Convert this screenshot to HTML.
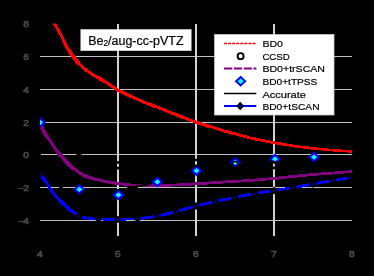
<!DOCTYPE html>
<html><head><meta charset="utf-8"><title>Be2 chart</title>
<style>html,body{margin:0;padding:0;background:#000;}svg{display:block}text{font-family:"Liberation Sans",sans-serif;filter:grayscale(1);}</style></head>
<body>
<svg width="374" height="276" viewBox="0 0 374 276">
<rect x="0" y="0" width="374" height="276" fill="#000"/>
<defs><filter id="bl" x="-5%" y="-5%" width="110%" height="110%"><feGaussianBlur stdDeviation="0.35"/></filter><clipPath id="ax"><rect x="40" y="23.5" width="312" height="212.3"/></clipPath></defs>
<g shape-rendering="crispEdges">
<rect x="40" y="56" width="312" height="1" fill="#c2c2c2"/>
<rect x="40" y="89" width="312" height="1" fill="#c2c2c2"/>
<rect x="40" y="122" width="312" height="1" fill="#c2c2c2"/>
<rect x="40" y="154" width="312" height="1" fill="#c2c2c2"/>
<rect x="40" y="187" width="312" height="1" fill="#c2c2c2"/>
<rect x="40" y="220" width="312" height="1" fill="#c2c2c2"/>
<rect x="117" y="23.5" width="2" height="212.3" fill="#d2d2d2"/>
<rect x="195" y="23.5" width="2" height="212.3" fill="#d2d2d2"/>
<rect x="273" y="23.5" width="2" height="212.3" fill="#d2d2d2"/>
</g>
<g clip-path="url(#ax)" fill="none" stroke-linejoin="round">
<path d="M47.48,12.00V12.00H48.52V14.03H49.56V16.02H50.60V17.99H51.64V19.92H52.68V21.82H53.72V23.69H54.76V25.50H55.80V27.24H56.84V28.95H57.88V30.67H58.92V32.43H59.96V34.26H61.00V36.23H62.04V38.29H63.08V40.41H64.12V42.52H65.16V44.58H66.20V46.52H67.24V48.36H68.28V50.12H69.32V51.77H70.36V53.31H71.40V54.78H72.44V56.18H73.48V57.54H74.52V58.84H75.56V60.10H76.60V61.34H77.64V62.58H78.68V63.79H79.72V64.94H80.76V66.01H81.80V67.04H82.84V67.99H83.88V68.86H84.92V69.68H85.96V70.44H87.00V71.18H88.04V71.90H89.08V72.60H90.12V73.27H91.16V73.92H92.20V74.55H93.24V75.15H94.28V75.73H95.32V76.29H96.36V76.87H97.40V77.45H98.44V78.06H99.48V78.68H100.52V79.30H101.56V79.93H102.60V80.57H103.64V81.21H104.68V81.86H105.72V82.52H106.76V83.18H107.80V83.84H108.84V84.50H109.88V85.15H110.92V85.82H111.96V86.49H113.00V87.16H114.04V87.83H115.08V88.48H116.12V89.12H117.16V89.72H118.20V90.30H119.24V90.86H120.28V91.41H121.32V91.96H122.36V92.49H123.40V93.02H124.44V93.54H125.48V94.05H126.52V94.55H127.56V95.04H128.60V95.53H129.64V96.02H130.68V96.49H131.72V96.97H132.76V97.44H133.80V97.90H134.84V98.36H135.88V98.82H136.92V99.28H137.96V99.73H139.00V100.18H140.04V100.62H141.08V101.05H142.12V101.48H143.16V101.91H144.20V102.33H145.24V102.75H146.28V103.17H147.32V103.58H148.36V103.99H149.40V104.40H150.44V104.80H151.48V105.21H152.52V105.61H153.56V106.01H154.60V106.41H155.64V106.81H156.68V107.21H157.72V107.61H158.76V108.02H159.80V108.42H160.84V108.82H161.88V109.23H162.92V109.64H163.96V110.05H165.00V110.46H166.04V110.87H167.08V111.28H168.12V111.69H169.16V112.10H170.20V112.51H171.24V112.92H172.28V113.33H173.32V113.74H174.36V114.15H175.40V114.56H176.44V114.97H177.48V115.37H178.52V115.78H179.56V116.18H180.60V116.59H181.64V116.99H182.68V117.39H183.72V117.79H184.76V118.18H185.80V118.58H186.84V118.97H187.88V119.36H188.92V119.74H189.96V120.13H191.00V120.51H192.04V120.89H193.08V121.26H194.12V121.63H195.16V121.99H196.20V122.34H197.24V122.69H198.28V123.03H199.32V123.37H200.36V123.70H201.40V124.03H202.44V124.36H203.48V124.69H204.52V125.01H205.56V125.33H206.60V125.66H207.64V125.98H208.68V126.30H209.72V126.62H210.76V126.94H211.80V127.27H212.84V127.59H213.88V127.91H214.92V128.23H215.96V128.55H217.00V128.87H218.04V129.18H219.08V129.50H220.12V129.81H221.16V130.12H222.20V130.43H223.24V130.73H224.28V131.03H225.32V131.33H226.36V131.62H227.40V131.91H228.44V132.21H229.48V132.50H230.52V132.79H231.56V133.08H232.60V133.37H233.64V133.65H234.68V133.94H235.72V134.22H236.76V134.51H237.80V134.79H238.84V135.07H239.88V135.34H240.92V135.62H241.96V135.89H243.00V136.16H244.04V136.43H245.08V136.69H246.12V136.95H247.16V137.21H248.20V137.46H249.24V137.71H250.28V137.96H251.32V138.20H252.36V138.44H253.40V138.67H254.44V138.90H255.48V139.13H256.52V139.35H257.56V139.57H258.60V139.79H259.64V140.01H260.68V140.22H261.72V140.43H262.76V140.64H263.80V140.84H264.84V141.05H265.88V141.25H266.92V141.44H267.96V141.64H269.00V141.83H270.04V142.03H271.08V142.22H272.12V142.40H273.16V142.59H274.20V142.77H275.24V142.96H276.28V143.14H277.32V143.33H278.36V143.51H279.40V143.69H280.44V143.87H281.48V144.05H282.52V144.23H283.56V144.40H284.60V144.58H285.64V144.75H286.68V144.92H287.72V145.09H288.76V145.25H289.80V145.42H290.84V145.58H291.88V145.74H292.92V145.89H293.96V146.05H295.00V146.20H296.04V146.34H297.08V146.48H298.12V146.62H299.16V146.76H300.20V146.89H301.24V147.02H302.28V147.15H303.32V147.27H304.36V147.40H305.40V147.52H306.44V147.64H307.48V147.76H308.52V147.88H309.56V147.99H310.60V148.11H311.64V148.22H312.68V148.33H313.72V148.44H314.76V148.54H315.80V148.65H316.84V148.75H317.88V148.85H318.92V148.96H319.96V149.06H321.00V149.15H322.04V149.25H323.08V149.35H324.12V149.44H325.16V149.53H326.20V149.62H327.24V149.71H328.28V149.80H329.32V149.89H330.36V149.98H331.40V150.06H332.44V150.15H333.48V150.23H334.52V150.32H335.56V150.40H336.60V150.48H337.64V150.56H338.68V150.64H339.72V150.72H340.76V150.79H341.80V150.87H342.84V150.94H343.88V151.01H344.92V151.08H345.96V151.15H347.00V151.22H348.04V151.29H349.08V151.35H350.12V151.42H351.16V151.48H352.20V151.50H353.24" stroke="#ff0000" stroke-width="2.4" stroke-linejoin="miter" shape-rendering="crispEdges" filter="url(#bl)"/>
<path d="M39.48,124.50V124.50H40.52V126.33H41.56V128.13H42.60V129.90H43.64V131.65H44.68V133.37H45.72V135.06H46.76V136.72H47.80V138.35H48.84V139.94H49.88V141.51H50.92V143.06H51.96V144.60H53.00V146.12H54.04V147.61H55.08V149.07H56.12V150.49H57.16V151.88H58.20V153.23H59.24V154.53H60.28V155.77H61.32V156.95H62.36V158.07H63.40V159.16H64.44V160.23H65.48V161.30H66.52V162.39H67.56V163.47H68.60V164.53H69.64V165.55H70.68V166.51H71.72V167.42H72.76V168.29H73.80V169.12H74.84V169.92H75.88V170.69H76.92V171.42H77.96V172.13H79.00V172.80H80.04V173.45H81.08V174.06H82.12V174.64H83.16V175.20H84.20V175.73H85.24V176.23H86.28V176.69H87.32V177.09H88.36V177.44H89.40V177.75H90.44V178.05H91.48V178.33H92.52V178.61H93.56V178.89H94.60V179.17H95.64V179.44H96.68V179.69H97.72V179.94H98.76V180.18H99.80V180.41H100.84V180.63H101.88V180.86H102.92V181.07H103.96V181.28H105.00V181.49H106.04V181.69H107.08V181.88H108.12V182.07H109.16V182.25H110.20V182.42H111.24V182.59H112.28V182.75H113.32V182.92H114.36V183.07H115.40V183.22H116.44V183.37H117.48V183.51H118.52V183.65H119.56V183.78H120.60V183.90H121.64V184.02H122.68V184.13H123.72V184.25H124.76V184.36H125.80V184.48H126.84V184.59H127.88V184.69H128.92V184.80H129.96V184.90H131.00V184.99H132.04V185.07H133.08V185.14H134.12V185.20H135.16V185.25H136.20V185.29H137.24V185.32H138.28V185.35H139.32V185.37H140.36V185.40H141.40V185.42H142.44V185.44H143.48V185.46H144.52V185.48H145.56V185.50H146.60V185.52H147.64V185.53H148.68V185.55H149.72V185.56H150.76V185.57H151.80V185.58H152.84V185.59H153.88V185.59H154.92V185.60H155.96V185.60H157.00V185.60H158.04V185.59H159.08V185.58H160.12V185.56H161.16V185.54H162.20V185.51H163.24V185.48H164.28V185.44H165.32V185.40H166.36V185.36H167.40V185.31H168.44V185.27H169.48V185.22H170.52V185.18H171.56V185.13H172.60V185.08H173.64V185.04H174.68V184.99H175.72V184.95H176.76V184.90H177.80V184.85H178.84V184.79H179.88V184.74H180.92V184.68H181.96V184.62H183.00V184.56H184.04V184.50H185.08V184.44H186.12V184.38H187.16V184.31H188.20V184.25H189.24V184.18H190.28V184.12H191.32V184.05H192.36V183.99H193.40V183.93H194.44V183.86H195.48V183.80H196.52V183.74H197.56V183.68H198.60V183.61H199.64V183.55H200.68V183.48H201.72V183.42H202.76V183.36H203.80V183.29H204.84V183.23H205.88V183.16H206.92V183.10H207.96V183.03H209.00V182.96H210.04V182.90H211.08V182.83H212.12V182.77H213.16V182.70H214.20V182.63H215.24V182.57H216.28V182.50H217.32V182.44H218.36V182.37H219.40V182.31H220.44V182.24H221.48V182.18H222.52V182.11H223.56V182.05H224.60V181.98H225.64V181.92H226.68V181.86H227.72V181.79H228.76V181.73H229.80V181.67H230.84V181.60H231.88V181.54H232.92V181.48H233.96V181.41H235.00V181.35H236.04V181.29H237.08V181.22H238.12V181.16H239.16V181.09H240.20V181.02H241.24V180.96H242.28V180.89H243.32V180.82H244.36V180.75H245.40V180.68H246.44V180.61H247.48V180.54H248.52V180.47H249.56V180.39H250.60V180.32H251.64V180.24H252.68V180.17H253.72V180.09H254.76V180.01H255.80V179.93H256.84V179.85H257.88V179.77H258.92V179.69H259.96V179.61H261.00V179.53H262.04V179.44H263.08V179.36H264.12V179.27H265.16V179.19H266.20V179.10H267.24V179.01H268.28V178.92H269.32V178.83H270.36V178.74H271.40V178.64H272.44V178.55H273.48V178.45H274.52V178.36H275.56V178.25H276.60V178.15H277.64V178.04H278.68V177.93H279.72V177.82H280.76V177.71H281.80V177.60H282.84V177.48H283.88V177.37H284.92V177.25H285.96V177.13H287.00V177.02H288.04V176.90H289.08V176.78H290.12V176.67H291.16V176.55H292.20V176.44H293.24V176.33H294.28V176.22H295.32V176.11H296.36V176.01H297.40V175.90H298.44V175.80H299.48V175.71H300.52V175.61H301.56V175.51H302.60V175.42H303.64V175.33H304.68V175.24H305.72V175.14H306.76V175.05H307.80V174.96H308.84V174.87H309.88V174.79H310.92V174.70H311.96V174.61H313.00V174.52H314.04V174.44H315.08V174.35H316.12V174.27H317.16V174.18H318.20V174.10H319.24V174.02H320.28V173.93H321.32V173.85H322.36V173.77H323.40V173.69H324.44V173.60H325.48V173.52H326.52V173.44H327.56V173.36H328.60V173.28H329.64V173.20H330.68V173.12H331.72V173.04H332.76V172.96H333.80V172.88H334.84V172.80H335.88V172.72H336.92V172.64H337.96V172.57H339.00V172.49H340.04V172.41H341.08V172.34H342.12V172.26H343.16V172.19H344.20V172.11H345.24V172.04H346.28V171.96H347.32V171.89H348.36V171.82H349.40V171.74H350.44V171.67H351.48V171.60H352.52" stroke="#800080" stroke-width="2.6" stroke-linejoin="miter" shape-rendering="crispEdges" filter="url(#bl)"/>
<path d="M39.00,152.50 L40.57,155.41 L42.15,158.27 L43.72,161.06 L45.29,163.78 L46.86,166.43 L48.44,169.01 L50.01,171.52 L51.58,174.02 L53.16,176.57 L54.73,179.08 L56.30,181.50 L57.87,183.74 L59.45,185.74 L61.02,187.44 L62.59,188.88 L64.17,190.25 L65.74,191.52 L67.31,192.66 L68.88,193.65 L70.46,194.44 L72.03,195.01 L73.60,195.45 L75.18,195.86 L76.75,196.24 L78.32,196.58 L79.89,196.86 L81.47,197.08 L83.04,197.23 L84.61,197.30 L86.19,197.28 L87.76,197.19 L89.33,197.04 L90.90,196.83 L92.48,196.59 L94.05,196.32 L95.62,196.03 L97.20,195.73 L98.77,195.43 L100.34,195.14 L101.91,194.82 L103.49,194.47 L105.06,194.08 L106.63,193.67 L108.21,193.24 L109.78,192.80 L111.35,192.36 L112.92,191.91 L114.50,191.48 L116.07,191.07 L117.64,190.68 L119.22,190.32 L120.79,189.97 L122.36,189.63 L123.93,189.29 L125.51,188.96 L127.08,188.63 L128.65,188.31 L130.23,187.98 L131.80,187.64 L133.37,187.31 L134.94,186.98 L136.52,186.64 L138.09,186.30 L139.66,185.95 L141.24,185.59 L142.81,185.23 L144.38,184.85 L145.95,184.48 L147.53,184.10 L149.10,183.72 L150.67,183.34 L152.25,182.95 L153.82,182.56 L155.39,182.17 L156.96,181.78 L158.54,181.38 L160.11,180.97 L161.68,180.55 L163.26,180.12 L164.83,179.68 L166.40,179.23 L167.97,178.77 L169.55,178.31 L171.12,177.84 L172.69,177.37 L174.27,176.89 L175.84,176.42 L177.41,175.94 L178.98,175.47 L180.56,175.01 L182.13,174.55 L183.70,174.10 L185.28,173.65 L186.85,173.22 L188.42,172.80 L189.99,172.40 L191.57,172.01 L193.14,171.63 L194.71,171.28 L196.29,170.94 L197.86,170.61 L199.43,170.29 L201.01,169.98 L202.58,169.66 L204.15,169.36 L205.72,169.06 L207.30,168.76 L208.87,168.47 L210.44,168.18 L212.02,167.90 L213.59,167.63 L215.16,167.36 L216.73,167.09 L218.31,166.84 L219.88,166.58 L221.45,166.34 L223.03,166.10 L224.60,165.87 L226.17,165.64 L227.74,165.42 L229.32,165.21 L230.89,165.00 L232.46,164.81 L234.04,164.61 L235.61,164.43 L237.18,164.25 L238.75,164.08 L240.33,163.91 L241.90,163.74 L243.47,163.58 L245.05,163.42 L246.62,163.27 L248.19,163.12 L249.76,162.97 L251.34,162.83 L252.91,162.69 L254.48,162.55 L256.06,162.41 L257.63,162.28 L259.20,162.15 L260.77,162.02 L262.35,161.89 L263.92,161.77 L265.49,161.65 L267.07,161.52 L268.64,161.40 L270.21,161.28 L271.78,161.17 L273.36,161.05 L274.93,160.93 L276.50,160.81 L278.08,160.70 L279.65,160.58 L281.22,160.47 L282.79,160.36 L284.37,160.24 L285.94,160.13 L287.51,160.02 L289.09,159.92 L290.66,159.81 L292.23,159.70 L293.80,159.60 L295.38,159.50 L296.95,159.40 L298.52,159.30 L300.10,159.20 L301.67,159.11 L303.24,159.02 L304.81,158.93 L306.39,158.84 L307.96,158.76 L309.53,158.67 L311.11,158.59 L312.68,158.52 L314.25,158.44 L315.82,158.37 L317.40,158.29 L318.97,158.22 L320.54,158.15 L322.12,158.08 L323.69,158.01 L325.26,157.94 L326.83,157.87 L328.41,157.81 L329.98,157.74 L331.55,157.68 L333.13,157.62 L334.70,157.56 L336.27,157.50 L337.84,157.44 L339.42,157.38 L340.99,157.33 L342.56,157.28 L344.14,157.23 L345.71,157.18 L347.28,157.13 L348.85,157.08 L350.43,157.04 L352.00,157.00" stroke="#000" stroke-width="2.4" shape-rendering="crispEdges"/>
<path d="M39.48,174.20V174.20H40.52V175.30H41.56V176.49H42.60V177.79H43.64V179.24H44.68V180.82H45.72V182.47H46.76V184.14H47.80V185.79H48.84V187.34H49.88V188.84H50.92V190.32H51.96V191.78H53.00V193.20H54.04V194.56H55.08V195.85H56.12V197.04H57.16V198.18H58.20V199.26H59.24V200.30H60.28V201.32H61.32V202.31H62.36V203.30H63.40V204.28H64.44V205.26H65.48V206.23H66.52V207.17H67.56V208.09H68.60V208.97H69.64V209.81H70.68V210.60H71.72V211.32H72.76V212.02H73.80V212.70H74.84V213.40H75.88V214.15H76.92V215.08H77.96V215.86H79.00V216.23H80.04V216.54H81.08V216.83H82.12V217.11H83.16V217.36H84.20V217.60H85.24V217.82H86.28V218.03H87.32V218.21H88.36V218.38H89.40V218.53H90.44V218.67H91.48V218.79H92.52V218.90H93.56V218.99H94.60V219.06H95.64V219.12H96.68V219.16H97.72V219.19H98.76V219.21H99.80V219.23H100.84V219.25H101.88V219.27H102.92V219.29H103.96V219.30H105.00V219.31H106.04V219.33H107.08V219.34H108.12V219.35H109.16V219.36H110.20V219.37H111.24V219.38H112.28V219.38H113.32V219.39H114.36V219.39H115.40V219.40H116.44V219.40H117.48V219.40H118.52V219.40H119.56V219.39H120.60V219.38H121.64V219.36H122.68V219.34H123.72V219.31H124.76V219.28H125.80V219.24H126.84V219.20H127.88V219.16H128.92V219.12H129.96V219.07H131.00V219.02H132.04V218.97H133.08V218.92H134.12V218.86H135.16V218.80H136.20V218.74H137.24V218.68H138.28V218.62H139.32V218.53H140.36V218.44H141.40V218.33H142.44V218.21H143.48V218.09H144.52V217.95H145.56V217.81H146.60V217.66H147.64V217.50H148.68V217.33H149.72V217.16H150.76V216.99H151.80V216.81H152.84V216.64H153.88V216.45H154.92V216.27H155.96V216.09H157.00V215.91H158.04V215.72H159.08V215.51H160.12V215.30H161.16V215.08H162.20V214.85H163.24V214.61H164.28V214.37H165.32V214.12H166.36V213.86H167.40V213.60H168.44V213.34H169.48V213.08H170.52V212.81H171.56V212.54H172.60V212.27H173.64V212.00H174.68V211.73H175.72V211.47H176.76V211.20H177.80V210.93H178.84V210.65H179.88V210.36H180.92V210.07H181.96V209.78H183.00V209.48H184.04V209.18H185.08V208.88H186.12V208.58H187.16V208.28H188.20V207.98H189.24V207.69H190.28V207.39H191.32V207.10H192.36V206.82H193.40V206.54H194.44V206.27H195.48V206.00H196.52V205.74H197.56V205.48H198.60V205.23H199.64V204.98H200.68V204.73H201.72V204.49H202.76V204.25H203.80V204.01H204.84V203.77H205.88V203.53H206.92V203.30H207.96V203.06H209.00V202.83H210.04V202.60H211.08V202.37H212.12V202.14H213.16V201.90H214.20V201.67H215.24V201.44H216.28V201.21H217.32V200.98H218.36V200.75H219.40V200.52H220.44V200.28H221.48V200.05H222.52V199.83H223.56V199.60H224.60V199.37H225.64V199.14H226.68V198.92H227.72V198.70H228.76V198.48H229.80V198.26H230.84V198.04H231.88V197.83H232.92V197.61H233.96V197.40H235.00V197.20H236.04V196.99H237.08V196.79H238.12V196.59H239.16V196.39H240.20V196.19H241.24V195.99H242.28V195.80H243.32V195.61H244.36V195.42H245.40V195.22H246.44V195.04H247.48V194.85H248.52V194.66H249.56V194.48H250.60V194.29H251.64V194.11H252.68V193.93H253.72V193.75H254.76V193.56H255.80V193.39H256.84V193.21H257.88V193.03H258.92V192.86H259.96V192.68H261.00V192.51H262.04V192.34H263.08V192.17H264.12V192.00H265.16V191.83H266.20V191.66H267.24V191.50H268.28V191.33H269.32V191.16H270.36V191.00H271.40V190.83H272.44V190.67H273.48V190.50H274.52V190.34H275.56V190.17H276.60V190.01H277.64V189.86H278.68V189.70H279.72V189.54H280.76V189.39H281.80V189.23H282.84V189.08H283.88V188.92H284.92V188.76H285.96V188.61H287.00V188.45H288.04V188.29H289.08V188.13H290.12V187.96H291.16V187.80H292.20V187.63H293.24V187.46H294.28V187.28H295.32V187.10H296.36V186.92H297.40V186.74H298.44V186.56H299.48V186.37H300.52V186.18H301.56V185.99H302.60V185.80H303.64V185.61H304.68V185.42H305.72V185.23H306.76V185.04H307.80V184.84H308.84V184.65H309.88V184.47H310.92V184.28H311.96V184.09H313.00V183.91H314.04V183.72H315.08V183.54H316.12V183.36H317.16V183.17H318.20V182.99H319.24V182.81H320.28V182.62H321.32V182.44H322.36V182.26H323.40V182.08H324.44V181.90H325.48V181.71H326.52V181.53H327.56V181.35H328.60V181.18H329.64V181.00H330.68V180.82H331.72V180.64H332.76V180.47H333.80V180.29H334.84V180.12H335.88V179.94H336.92V179.77H337.96V179.60H339.00V179.43H340.04V179.25H341.08V179.08H342.12V178.91H343.16V178.74H344.20V178.57H345.24V178.40H346.28V178.23H347.32V178.07H348.36V177.90H349.40V177.73H350.44V177.57H351.48V177.40H352.52" stroke="#0000ff" stroke-width="2.4" stroke-linejoin="miter" shape-rendering="crispEdges" filter="url(#bl)"/>
<path d="M40.00,171.70 L42.50,174.20 L40.00,176.70 L37.50,174.20 Z" fill="#0000ff" stroke="#000" stroke-width="2" stroke-linejoin="miter"/>
<path d="M79.00,213.56 L81.50,216.06 L79.00,218.56 L76.50,216.06 Z" fill="#0000ff" stroke="#000" stroke-width="2" stroke-linejoin="miter"/>
<path d="M98.50,216.70 L101.00,219.20 L98.50,221.70 L96.00,219.20 Z" fill="#0000ff" stroke="#000" stroke-width="2" stroke-linejoin="miter"/>
<path d="M118.00,216.90 L120.50,219.40 L118.00,221.90 L115.50,219.40 Z" fill="#0000ff" stroke="#000" stroke-width="2" stroke-linejoin="miter"/>
<path d="M137.50,216.20 L140.00,218.70 L137.50,221.20 L135.00,218.70 Z" fill="#0000ff" stroke="#000" stroke-width="2" stroke-linejoin="miter"/>
<path d="M157.00,213.50 L159.50,216.00 L157.00,218.50 L154.50,216.00 Z" fill="#0000ff" stroke="#000" stroke-width="2" stroke-linejoin="miter"/>
<path d="M176.50,208.90 L179.00,211.40 L176.50,213.90 L174.00,211.40 Z" fill="#0000ff" stroke="#000" stroke-width="2" stroke-linejoin="miter"/>
<path d="M196.00,203.50 L198.50,206.00 L196.00,208.50 L193.50,206.00 Z" fill="#0000ff" stroke="#000" stroke-width="2" stroke-linejoin="miter"/>
<path d="M215.50,199.00 L218.00,201.50 L215.50,204.00 L213.00,201.50 Z" fill="#0000ff" stroke="#000" stroke-width="2" stroke-linejoin="miter"/>
<path d="M235.00,194.80 L237.50,197.30 L235.00,199.80 L232.50,197.30 Z" fill="#0000ff" stroke="#000" stroke-width="2" stroke-linejoin="miter"/>
<path d="M254.50,191.20 L257.00,193.70 L254.50,196.20 L252.00,193.70 Z" fill="#0000ff" stroke="#000" stroke-width="2" stroke-linejoin="miter"/>
<path d="M274.00,188.00 L276.50,190.50 L274.00,193.00 L271.50,190.50 Z" fill="#0000ff" stroke="#000" stroke-width="2" stroke-linejoin="miter"/>
<path d="M293.50,185.00 L296.00,187.50 L293.50,190.00 L291.00,187.50 Z" fill="#0000ff" stroke="#000" stroke-width="2" stroke-linejoin="miter"/>
<path d="M313.00,181.50 L315.50,184.00 L313.00,186.50 L310.50,184.00 Z" fill="#0000ff" stroke="#000" stroke-width="2" stroke-linejoin="miter"/>
<path d="M332.50,178.10 L335.00,180.60 L332.50,183.10 L330.00,180.60 Z" fill="#0000ff" stroke="#000" stroke-width="2" stroke-linejoin="miter"/>
<path d="M352.00,174.90 L354.50,177.40 L352.00,179.90 L349.50,177.40 Z" fill="#0000ff" stroke="#000" stroke-width="2" stroke-linejoin="miter"/>
<path d="M40.00,118.35 L44.50,122.50 L40.00,126.65 L35.50,122.50 Z" fill="#00ffff" stroke="#0000ff" stroke-width="2" stroke-linejoin="miter"/>
<path d="M79.30,185.15 L83.80,189.30 L79.30,193.45 L74.80,189.30 Z" fill="#00ffff" stroke="#0000ff" stroke-width="2" stroke-linejoin="miter"/>
<path d="M118.40,190.75 L122.90,194.90 L118.40,199.05 L113.90,194.90 Z" fill="#00ffff" stroke="#0000ff" stroke-width="2" stroke-linejoin="miter"/>
<path d="M157.40,177.75 L161.90,181.90 L157.40,186.05 L152.90,181.90 Z" fill="#00ffff" stroke="#0000ff" stroke-width="2" stroke-linejoin="miter"/>
<path d="M196.50,166.55 L201.00,170.70 L196.50,174.85 L192.00,170.70 Z" fill="#00ffff" stroke="#0000ff" stroke-width="2" stroke-linejoin="miter"/>
<path d="M235.30,158.25 L239.80,162.40 L235.30,166.55 L230.80,162.40 Z" fill="#00ffff" stroke="#0000ff" stroke-width="2" stroke-linejoin="miter"/>
<path d="M275.00,154.95 L279.50,159.10 L275.00,163.25 L270.50,159.10 Z" fill="#00ffff" stroke="#0000ff" stroke-width="2" stroke-linejoin="miter"/>
<path d="M314.00,152.95 L318.50,157.10 L314.00,161.25 L309.50,157.10 Z" fill="#00ffff" stroke="#0000ff" stroke-width="2" stroke-linejoin="miter"/>
<circle cx="79" cy="151.2" r="3.0" stroke="#000" stroke-width="2.4"/>
<circle cx="118" cy="165.2" r="3.0" stroke="#000" stroke-width="2.4"/>
<circle cx="157" cy="164.5" r="3.0" stroke="#000" stroke-width="2.4"/>
<circle cx="196" cy="162.9" r="3.0" stroke="#000" stroke-width="2.4"/>
<circle cx="235" cy="164.5" r="3.0" stroke="#000" stroke-width="1.7"/>
<circle cx="274" cy="165" r="3.0" stroke="#000" stroke-width="2.4"/>
<circle cx="313" cy="166" r="3.0" stroke="#000" stroke-width="2.4"/>
</g>
<text x="23.3" y="26.75" font-size="9.8" fill="#484848" stroke="#484848" stroke-width="0.7" textLength="5.7" lengthAdjust="spacingAndGlyphs">8</text>
<text x="23.3" y="60.05" font-size="9.8" fill="#484848" stroke="#484848" stroke-width="0.7" textLength="5.7" lengthAdjust="spacingAndGlyphs">6</text>
<text x="23.3" y="93.05" font-size="9.8" fill="#484848" stroke="#484848" stroke-width="0.7" textLength="5.7" lengthAdjust="spacingAndGlyphs">4</text>
<text x="23.3" y="126.05" font-size="9.8" fill="#484848" stroke="#484848" stroke-width="0.7" textLength="5.7" lengthAdjust="spacingAndGlyphs">2</text>
<text x="23.3" y="158.05" font-size="9.8" fill="#484848" stroke="#484848" stroke-width="0.7" textLength="5.7" lengthAdjust="spacingAndGlyphs">0</text>
<text x="23.3" y="191.05" font-size="9.8" fill="#484848" stroke="#484848" stroke-width="0.7" textLength="5.7" lengthAdjust="spacingAndGlyphs">2</text>
<rect x="18.1" y="187.95" width="5.7" height="1.0" fill="#484848"/>
<text x="23.3" y="224.05" font-size="9.8" fill="#484848" stroke="#484848" stroke-width="0.7" textLength="5.7" lengthAdjust="spacingAndGlyphs">4</text>
<rect x="18.1" y="220.95" width="5.7" height="1.0" fill="#484848"/>
<text x="37.0" y="257.2" font-size="9.8" fill="#484848" stroke="#484848" stroke-width="0.7" textLength="5.7" lengthAdjust="spacingAndGlyphs">4</text>
<text x="115.0" y="257.2" font-size="9.8" fill="#484848" stroke="#484848" stroke-width="0.7" textLength="5.7" lengthAdjust="spacingAndGlyphs">5</text>
<text x="193.0" y="257.2" font-size="9.8" fill="#484848" stroke="#484848" stroke-width="0.7" textLength="5.7" lengthAdjust="spacingAndGlyphs">6</text>
<text x="271.0" y="257.2" font-size="9.8" fill="#484848" stroke="#484848" stroke-width="0.7" textLength="5.7" lengthAdjust="spacingAndGlyphs">7</text>
<text x="349.0" y="257.2" font-size="9.8" fill="#484848" stroke="#484848" stroke-width="0.7" textLength="5.7" lengthAdjust="spacingAndGlyphs">8</text>
<rect x="80.5" y="29.3" width="111" height="21.5" fill="#fff"/>
<text x="88.2" y="44.7" font-size="12.3" fill="#000" stroke="#000" stroke-width="0.2" textLength="95.4" lengthAdjust="spacingAndGlyphs">Be<tspan font-size="8.2" dy="1.7">2</tspan><tspan dy="-1.7">/aug-cc-pVTZ</tspan></text>
<rect x="214.6" y="34.5" width="119.4" height="80.5" fill="#fff" stroke="#cccccc" stroke-width="0.8"/>
<path d="M224.05,43.5 H256.6" stroke="#ff0000" stroke-width="1.6" stroke-dasharray="3 1.06" fill="none"/>
<circle cx="240.6" cy="56.15" r="3.0" stroke="#000" stroke-width="1.9" fill="#fff"/>
<path d="M224.1,68.4 H256.4" stroke="#800080" stroke-width="2" stroke-dasharray="8.2 1.6" fill="none"/>
<path d="M240.60,77.10 L245.10,81.25 L240.60,85.40 L236.10,81.25 Z" fill="#00ffff" stroke="#0000ff" stroke-width="2"/>
<path d="M224,93.4 H256.3" stroke="#000" stroke-width="1.5" fill="none"/>
<path d="M224,106.0 H256.3" stroke="#0000ff" stroke-width="1.9" fill="none"/>
<path d="M240.20,103.20 L242.85,106.00 L240.20,108.80 L237.55,106.00 Z" fill="#0000ff" stroke="#000" stroke-width="2"/>
<text x="262.4" y="47.2" font-size="9.9" fill="#000" stroke="#000" stroke-width="0.2" textLength="20.6" lengthAdjust="spacingAndGlyphs">BD0</text>
<text x="262.4" y="59.8" font-size="9.9" fill="#000" stroke="#000" stroke-width="0.2" textLength="27.4" lengthAdjust="spacingAndGlyphs">CCSD</text>
<text x="262.4" y="72.4" font-size="9.9" fill="#000" stroke="#000" stroke-width="0.2" textLength="62.6" lengthAdjust="spacingAndGlyphs">BD0+trSCAN</text>
<text x="262.4" y="85.0" font-size="9.9" fill="#000" stroke="#000" stroke-width="0.2" textLength="55.0" lengthAdjust="spacingAndGlyphs">BD0+tTPSS</text>
<text x="262.4" y="97.5" font-size="9.9" fill="#000" stroke="#000" stroke-width="0.2" textLength="43.6" lengthAdjust="spacingAndGlyphs">Accurate</text>
<text x="262.4" y="109.9" font-size="9.9" fill="#000" stroke="#000" stroke-width="0.2" textLength="57.2" lengthAdjust="spacingAndGlyphs">BD0+tSCAN</text>
</svg>
</body></html>
